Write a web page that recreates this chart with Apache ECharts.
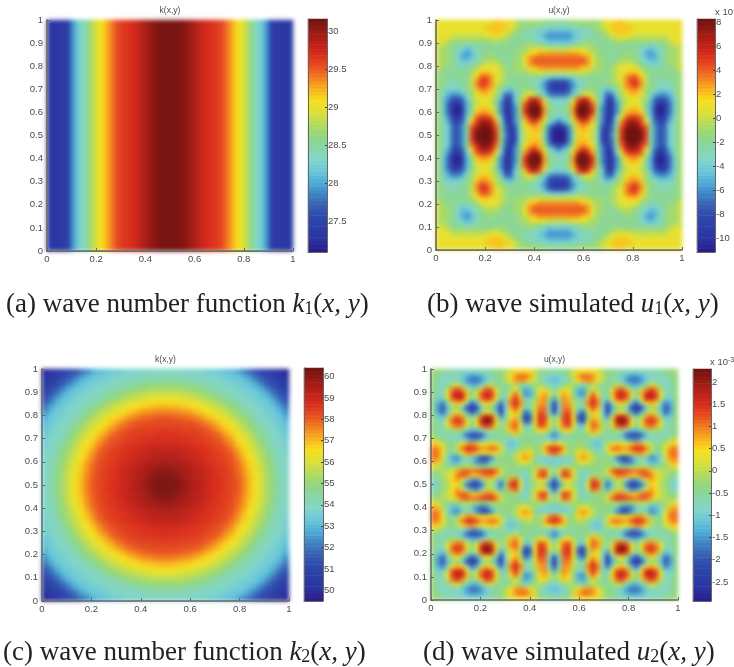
<!DOCTYPE html>
<html><head><meta charset="utf-8">
<style>html,body{margin:0;padding:0;background:#fff}#c{width:734px;height:667px}</style>
<script src="https://cdn.jsdelivr.net/npm/echarts@6/dist/echarts.min.js"></script>
</head><body><div id="c"></div>
<script>
// colour scale, equal steps from the low end to the high end of each colour bar
const colorScale = ['#2a1888','#2c32a0','#2b3da6','#2e48ac','#3860b4','#3f85c4','#50aed8','#6cc8d8','#82d6c8','#88d6a4','#90d680','#b4dc5c','#dce038','#f6e01e','#f8b01e','#f27c20','#e64c20','#d82c1c','#b82018','#961a14','#6e120e'];

const yTicks = [0,0.1,0.2,0.3,0.4,0.5,0.6,0.7,0.8,0.9,1];
const barTicksA = [27.5,28,28.5,29,29.5,30];
const barTicksB = [-10,-8,-6,-4,-2,0,2,4,6,8];
const barTicksC = [50,51,52,53,54,55,56,57,58,59,60];
const barTicksD = [-2.5,-2,-1.5,-1,-0.5,0,0.5,1,1.5,2];

// k1: value along x, from x=0 to x=0.5 in steps of 0.02 (stripes are uniform in y, mirrored about x=0.5)
const k1Profile = [27.4,27.3,27.3,27.35,27.5,27.95,28.2,28.35,28.55,28.8,29.0,29.1,29.25,29.4,29.55,29.62,29.66,29.7,29.75,29.85,29.93,30.0,30.07,30.1,30.12,30.14];

// u1 (x 1e-3): lower-left quarter, rows y=0..0.5, columns x=0..0.5, step 0.02
const u1Quarter = [
[1,1,1,1,1,1,1,1,1,1,1,1,2,2,1,1,0,-1,-1,-1,-1,-1,-1,-2,-2,-2],
[1,1,1,1,1,1,1,1,1,1,2,2,2,2,2,1,0,-1,-2,-2,-2,-3,-3,-3,-3,-3],
[1,1,1,1,1,1,1,1,1,1,1,2,2,2,1,0,-1,-2,-2,-3,-3,-4,-4,-5,-5,-5],
[1,1,1,0,0,0,0,0,0,0,1,1,1,1,0,-1,-2,-2,-3,-3,-3,-4,-5,-6,-6,-6],
[1,1,0,-1,-1,-1,-1,-1,-1,-1,-1,-1,0,-1,-1,-2,-2,-2,-2,-2,-3,-3,-4,-5,-5,-5],
[0,0,-1,-2,-2,-3,-3,-3,-2,-2,-2,-2,-2,-2,-2,-2,-2,-2,-1,-1,-1,-2,-2,-3,-3,-3],
[0,-1,-1,-2,-3,-4,-5,-4,-3,-2,-2,-2,-2,-2,-2,-2,-2,-1,-1,0,1,1,1,0,0,0],
[0,-1,-1,-2,-3,-5,-6,-5,-3,-2,-2,-1,-2,-2,-2,-2,-2,-1,0,2,2,3,3,3,3,3],
[0,-1,-1,-2,-3,-5,-5,-4,-3,-2,-1,-1,-1,-2,-2,-2,-1,-1,1,3,4,4,4,4,4,4],
[0,-1,-1,-2,-3,-4,-4,-3,-2,-1,0,0,0,-1,-2,-2,-1,-1,1,3,4,4,4,4,4,4],
[0,-1,-2,-2,-2,-3,-2,-2,-1,1,1,1,1,0,-1,-2,-1,-1,0,2,2,3,3,3,3,3],
[-1,-2,-2,-2,-2,-2,-2,-1,1,2,2,1,1,0,-1,-2,-1,-1,-1,0,0,1,0,0,0,0],
[-1,-2,-2,-2,-2,-2,-2,0,2,4,4,3,1,0,-1,-2,-2,-2,-2,-2,-2,-2,-3,-3,-4,-4],
[-1,-2,-2,-3,-3,-2,-2,0,3,5,5,3,1,0,-1,-2,-2,-2,-2,-2,-3,-3,-5,-7,-8,-8],
[-1,-2,-3,-3,-3,-2,-2,0,3,5,4,3,0,-1,-2,-3,-2,-2,-2,-2,-3,-4,-6,-8,-10,-10],
[-1,-3,-4,-4,-4,-3,-2,-1,2,3,3,2,0,-2,-4,-5,-3,-2,-1,-1,-2,-3,-5,-8,-9,-9],
[-1,-3,-5,-6,-6,-5,-3,-1,1,2,2,1,-1,-3,-7,-7,-4,-2,0,1,0,-2,-4,-6,-7,-7],
[-1,-4,-6,-8,-8,-7,-4,-1,0,1,1,0,-1,-5,-9,-8,-4,-1,2,5,6,4,0,-3,-4,-4],
[-1,-4,-7,-10,-10,-8,-5,-2,0,1,1,0,-2,-6,-10,-9,-5,-1,4,7,8,6,2,-2,-3,-3],
[-1,-4,-7,-10,-11,-9,-5,-2,1,2,2,1,-1,-6,-10,-9,-6,-1,5,8,9,8,3,-1,-2,-3],
[-1,-4,-7,-10,-11,-9,-5,-1,2,3,3,2,-1,-6,-10,-9,-6,-1,5,8,9,8,3,-2,-3,-3],
[-1,-3,-6,-9,-10,-8,-4,0,4,5,5,4,1,-4,-9,-10,-6,-2,3,6,8,6,2,-2,-3,-4],
[-1,-3,-5,-8,-9,-7,-3,2,5,7,7,6,3,-3,-8,-10,-6,-2,2,4,5,3,0,-3,-5,-7],
[-1,-3,-4,-7,-8,-6,-2,4,6,8,8,7,4,-2,-7,-10,-7,-2,1,2,3,2,-1,-6,-9,-10],
[-1,-3,-4,-7,-8,-6,-2,5,8,9,9,8,5,-1,-7,-10,-8,-3,0,2,2,2,-2,-7,-11,-11],
[-1,-3,-4,-7,-8,-6,-2,5,8,9,9,8,5,-1,-6,-10,-8,-3,0,1,2,1,-3,-7,-11,-11]
];

// k2: lower-left quarter, rows y=0..0.5, columns x=0..0.5, step 0.025
const k2Quarter = [
[49.8,50.1,50.4,50.7,51.1,51.4,51.9,52.3,52.8,53.1,53.2,53.4,53.5,53.6,53.7,53.8,53.8,53.9,53.9,53.9,53.9],
[50.1,50.4,50.7,51.2,51.5,52.0,52.6,53.0,53.3,53.4,53.5,53.7,53.8,53.9,53.9,54.0,54.1,54.1,54.2,54.2,54.2],
[50.4,50.7,51.2,51.5,52.1,52.7,53.1,53.4,53.5,53.6,53.8,53.9,54.0,54.1,54.2,54.4,54.5,54.7,54.7,54.8,54.8],
[50.7,51.2,51.5,52.2,52.8,53.2,53.4,53.5,53.7,53.9,54.0,54.1,54.3,54.6,54.8,55.0,55.1,55.2,55.3,55.3,55.3],
[51.1,51.5,52.1,52.8,53.2,53.4,53.6,53.8,53.9,54.0,54.3,54.6,54.8,55.1,55.3,55.5,55.6,55.8,55.9,55.9,55.9],
[51.4,52.0,52.7,53.2,53.4,53.6,53.8,54.0,54.1,54.4,54.8,55.1,55.3,55.6,55.8,56.0,56.2,56.3,56.4,56.5,56.5],
[51.9,52.6,53.1,53.4,53.6,53.8,54.0,54.2,54.6,54.9,55.2,55.6,55.9,56.1,56.4,56.6,56.7,56.8,56.9,57.0,57.0],
[52.3,53.0,53.4,53.5,53.8,54.0,54.2,54.6,55.0,55.4,55.7,56.0,56.3,56.6,56.8,57.0,57.3,57.4,57.5,57.6,57.6],
[52.8,53.3,53.5,53.7,53.9,54.1,54.6,55.0,55.4,55.8,56.1,56.5,56.7,57.0,57.4,57.6,57.8,57.9,58.0,58.1,58.1],
[53.1,53.4,53.6,53.9,54.0,54.4,54.9,55.4,55.8,56.1,56.6,56.9,57.3,57.6,57.9,58.1,58.2,58.2,58.3,58.3,58.3],
[53.2,53.5,53.8,54.0,54.3,54.8,55.2,55.7,56.1,56.6,56.9,57.3,57.7,58.0,58.2,58.3,58.4,58.4,58.5,58.5,58.5],
[53.4,53.7,53.9,54.1,54.6,55.1,55.6,56.0,56.5,56.9,57.3,57.8,58.1,58.2,58.4,58.5,58.5,58.6,58.6,58.7,58.7],
[53.5,53.8,54.0,54.3,54.8,55.3,55.9,56.3,56.7,57.3,57.7,58.1,58.2,58.4,58.5,58.6,58.7,58.7,58.8,58.8,58.8],
[53.6,53.9,54.1,54.6,55.1,55.6,56.1,56.6,57.0,57.6,58.0,58.2,58.4,58.5,58.7,58.7,58.8,58.9,59.0,59.0,59.0],
[53.7,53.9,54.2,54.8,55.3,55.8,56.4,56.8,57.4,57.9,58.2,58.4,58.5,58.7,58.7,58.9,59.0,59.1,59.2,59.2,59.2],
[53.8,54.0,54.4,55.0,55.5,56.0,56.6,57.0,57.6,58.1,58.3,58.5,58.6,58.7,58.9,59.0,59.1,59.2,59.3,59.4,59.4],
[53.8,54.1,54.5,55.1,55.6,56.2,56.7,57.3,57.8,58.2,58.4,58.5,58.7,58.8,59.0,59.1,59.3,59.4,59.5,59.6,59.6],
[53.9,54.1,54.7,55.2,55.8,56.3,56.8,57.4,57.9,58.2,58.4,58.6,58.7,58.9,59.1,59.2,59.4,59.6,59.7,59.8,59.9],
[53.9,54.2,54.7,55.3,55.9,56.4,56.9,57.5,58.0,58.3,58.5,58.6,58.8,59.0,59.2,59.3,59.5,59.7,59.9,60.1,60.1],
[53.9,54.2,54.8,55.3,55.9,56.5,57.0,57.6,58.1,58.3,58.5,58.7,58.8,59.0,59.2,59.4,59.6,59.8,60.1,60.2,60.2],
[53.9,54.2,54.8,55.3,55.9,56.5,57.0,57.6,58.1,58.3,58.5,58.7,58.8,59.0,59.2,59.4,59.6,59.9,60.1,60.2,60.2]
];

// u2 (x 1e-4): lower-left quarter, rows y=0..0.5, columns x=0..0.5, step 0.02
const u2Quarter = [
[-2,-3,-4,-5,-6,-7,-7,-8,-8,-8,-7,-6,-5,-4,-3,-1,2,4,5,5,4,1,-3,-4,-5,-5],
[-3,-5,-7,-8,-8,-8,-10,-13,-15,-15,-13,-10,-7,-5,-3,0,5,9,11,11,8,2,-4,-7,-9,-10],
[-3,-6,-8,-8,-7,-7,-10,-15,-18,-18,-15,-10,-7,-5,-4,-1,4,8,9,8,5,0,-5,-8,-11,-12],
[-3,-7,-8,-5,0,2,-3,-9,-13,-13,-8,-1,1,-3,-5,-4,-2,0,-3,-7,-5,-2,-1,-4,-8,-9],
[-3,-7,-7,0,10,14,9,0,-5,-2,7,13,11,2,-5,-6,-2,3,-5,-14,-12,-4,3,5,-1,-6],
[-3,-8,-7,4,14,18,16,7,-3,3,13,17,15,6,-5,-6,3,11,1,-16,-14,-4,5,8,3,-6],
[-3,-10,-10,1,12,16,15,5,-8,-1,10,15,12,3,-10,-6,8,15,7,-10,-9,-2,7,9,-2,-14],
[-4,-13,-17,-7,3,7,5,-8,-19,-13,1,6,4,-6,-18,-7,10,16,10,-3,-5,0,8,9,-7,-22],
[-4,-15,-20,-12,-2,-2,-10,-22,-26,-22,-9,-2,-3,-14,-24,-10,7,13,6,-9,-7,1,10,10,-10,-26],
[-4,-14,-19,-10,0,3,-2,-13,-21,-15,-2,4,1,-10,-23,-9,4,7,1,-18,-14,3,13,11,-7,-21],
[-3,-10,-12,-2,8,12,8,-1,-7,-1,12,19,15,1,-15,-6,3,6,-3,-24,-19,4,15,13,-2,-8],
[-3,-7,-7,3,12,15,13,3,-4,5,18,24,19,6,-7,-2,7,10,1,-21,-17,4,15,13,3,-3],
[-3,-6,-6,2,8,11,9,2,-4,2,11,15,12,2,-5,0,9,12,4,-11,-9,3,13,11,3,-4],
[-3,-6,-7,-4,-2,-1,-3,-9,-13,-13,-8,-2,-1,-3,-5,-1,6,9,3,-5,-5,-1,5,5,-2,-11],
[-3,-6,-7,-7,-7,-8,-12,-19,-23,-23,-20,-12,-7,-6,-5,-4,-2,1,-3,-5,-5,-5,-4,-6,-12,-17],
[1,-1,-4,-6,-7,-7,-8,-12,-16,-16,-13,-7,-5,-6,-6,-7,-10,-8,-5,-4,-4,-5,-6,-6,-8,-12],
[6,5,1,-3,-4,-1,4,8,9,6,3,4,6,4,-1,-7,-12,-10,-5,-3,-3,-4,-3,1,5,7],
[10,9,3,-3,-4,1,10,15,16,13,8,9,11,10,3,-6,-10,-7,-4,-1,0,-3,-2,7,14,16],
[11,10,4,-4,-6,-3,5,9,9,6,2,3,5,4,0,-5,-5,-2,3,6,5,-2,-3,3,9,12],
[10,9,2,-8,-14,-16,-10,-4,-6,-15,-22,-22,-16,-5,-4,-4,-3,0,6,9,6,-4,-9,-10,-8,-7],
[8,6,-1,-7,-12,-13,-8,-6,-11,-16,-18,-17,-11,-5,-3,-3,-3,-2,2,4,1,-4,-7,-9,-10,-10],
[3,1,-2,-3,-4,-3,-1,0,-1,-2,-4,-3,-1,-1,-2,-3,-3,-3,-3,-3,-3,-2,-1,-1,-5,-6],
[-2,-2,-1,0,2,7,11,12,10,11,13,14,15,11,3,-3,-4,-4,-6,-7,-5,2,10,12,3,-5],
[-5,-4,-1,1,5,10,12,10,6,6,8,10,10,6,-1,-3,-2,-2,-7,-9,-5,3,12,14,0,-11],
[-8,-6,-2,0,5,8,3,-7,-15,-17,-9,0,1,-5,-13,-3,9,12,1,-10,-6,0,5,5,-9,-20],
[-10,-7,-3,-1,4,4,-5,-18,-25,-26,-18,-2,-1,-10,-19,-2,14,17,4,-10,-6,-2,0,-3,-16,-24]
];

const mirror = a => a.concat(a.slice(0, -1).reverse());
const mirrorGrid = q => mirror(q.map(mirror));
const k1Row = mirror(k1Profile);
const k1Grid = yTicks.map(() => k1Row);
const u1Grid = mirrorGrid(u1Quarter);
const k2Grid = mirrorGrid(k2Quarter);
const u2Grid = mirrorGrid(u2Quarter).map(r => r.map(v => v / 10));

const panels = [
 {grid:k1Grid, title:'k(x,y)', tag:'(a)', cap:'wave number function ', sym:'k', sub:'1', min:27.1, max:30.16, ticks:barTicksA,
  plot:[47,20,246,231], bar:[308,19,19,233], capX:6, capY:304, dotted:true},
 {grid:u1Grid, title:'u(x,y)', tag:'(b)', cap:'wave simulated ', sym:'u', sub:'1', min:-11.14, max:8.28, ticks:barTicksB,
  plot:[436,20,246,230], bar:[697,19,18,233], capX:427, capY:304, dotted:true, exp:[715,13]},
 {grid:k2Grid, title:'k(x,y)', tag:'(c)', cap:'wave number function ', sym:'k', sub:'2', min:49.5, max:60.4, ticks:barTicksC,
  plot:[42,369,247,232], bar:[304,368,19,233], capX:3, capY:652, dotted:false},
 {grid:u2Grid, title:'u(x,y)', tag:'(d)', cap:'wave simulated ', sym:'u', sub:'2', min:-2.93, max:2.29, ticks:barTicksD,
  plot:[431,369,247,231], bar:[693,369,18,232], capX:423, capY:652, dotted:false, exp:[710,363]}
];

const TXT = '#4a4a4a', AX = '#666', SANS = '"Liberation Sans", Arial, sans-serif', SERIF = '"Liberation Serif", serif';
const LEVELS = 64;
const range = n => Array.from({length:n}, (_, i) => i);
const opt = {animation:false, backgroundColor:'transparent', grid:[], xAxis:[], yAxis:[], series:[], visualMap:[], title:[]};
const box = r => ({left:r[0], top:r[1], width:r[2], height:r[3], containLabel:false, show:false});

panels.forEach(p => {
  const g = opt.grid.length, rows = p.grid.length, cols = p.grid[0].length;
  opt.grid.push(box(p.plot), box(p.bar));
  const edge = {show:p.dotted, lineStyle:{color:'#999', type:'dotted', width:1}};
  const barEdge = {show:true, onZero:false, lineStyle:{color:'#666', width:1}};
  const xCat = opt.xAxis.length, yCat = opt.yAxis.length;
  opt.xAxis.push(
    {type:'category', gridIndex:g, position:'top', data:range(cols), axisLine:edge, axisTick:{show:false}, axisLabel:{show:false}, splitLine:{show:false}, zlevel:1},
    {type:'value', gridIndex:g, position:'bottom', min:0, max:1, interval:0.2, zlevel:1, splitLine:{show:false},
     axisLine:{show:true, onZero:false, lineStyle:{color:AX, width:1.5}}, axisTick:{show:true, inside:true, length:3, lineStyle:{color:AX}},
     axisLabel:{color:TXT, fontSize:9.5, fontFamily:SANS, margin:3}},
    {type:'category', gridIndex:g+1, data:[0], position:'bottom', axisLine:barEdge, axisTick:{show:false}, axisLabel:{show:false}, zlevel:1});
  opt.yAxis.push(
    {type:'category', gridIndex:g, position:'right', data:range(rows), axisLine:edge, axisTick:{show:false}, axisLabel:{show:false}, splitLine:{show:false}, zlevel:1},
    {type:'value', gridIndex:g, position:'left', min:0, max:1, interval:0.1, zlevel:1, splitLine:{show:false},
     axisLine:{show:true, onZero:false, lineStyle:{color:AX, width:1.5}}, axisTick:{show:true, inside:true, length:3, lineStyle:{color:AX}},
     axisLabel:{color:TXT, fontSize:9.5, fontFamily:SANS, margin:4}},
    {type:'category', gridIndex:g+1, data:range(LEVELS), position:'left', axisLine:barEdge, axisTick:{show:false}, axisLabel:{show:false}, zlevel:1},
    {type:'value', gridIndex:g+1, position:'right', min:p.min, max:p.max, zlevel:1, splitLine:{show:false},
     axisLine:{show:true, onZero:false, lineStyle:{color:'#666', width:1}}, axisTick:{show:true, inside:true, length:2, lineStyle:{color:'#444'}, customValues:p.ticks},
     axisLabel:{color:TXT, fontSize:9.5, fontFamily:SANS, margin:1, customValues:p.ticks}});
  const cells = [];
  p.grid.forEach((row, j) => row.forEach((v, i) => cells.push([i, j, v])));
  const s = opt.series.length;
  opt.series.push(
    {type:'heatmap', xAxisIndex:xCat, yAxisIndex:yCat, data:cells, progressive:0, zlevel:0, silent:true},
    {type:'heatmap', xAxisIndex:xCat+2, yAxisIndex:yCat+2, progressive:0, zlevel:1, z:0, silent:true,
     data:range(LEVELS).map(i => [0, i, p.min + (i + 0.5) / LEVELS * (p.max - p.min)])});
  opt.visualMap.push({show:false, seriesIndex:[s, s+1], dimension:2, min:p.min, max:p.max, inRange:{color:colorScale}});
  opt.title.push({text:p.title, left:p.plot[0] + p.plot[2] / 2, top:p.plot[1] - 14, textAlign:'center', zlevel:1, padding:0,
    textStyle:{color:TXT, fontSize:8.5, fontWeight:'normal', fontFamily:SANS}});
  const base = {fontFamily:SERIF, fontSize:27, color:'#222'};
  opt.title.push({left:p.capX, top:p.capY - 13, zlevel:1, padding:0,
    text:`{r|${p.tag} ${p.cap}}{i|${p.sym}}{s|${p.sub}}{r|(}{i|x, y}{r|)}`,
    textStyle:{fontWeight:'normal', fontFamily:SERIF, fontSize:27, color:'#222', rich:{
      r:{...base}, i:{...base, fontStyle:'italic'}, s:{...base, fontSize:18, verticalAlign:'bottom'}}}});
  if (p.exp) opt.title.push({left:p.exp[0], top:p.exp[1] - 6, zlevel:1, padding:0,
    text:'{a|x 10}{b|-3}', textStyle:{fontWeight:'normal', rich:{
      a:{color:TXT, fontSize:9.5, fontFamily:SANS}, b:{color:TXT, fontSize:7, fontFamily:SANS, verticalAlign:'top'}}}});
});

const chart = echarts.init(document.getElementById('c'), null, {renderer:'canvas'});
chart.setOption(opt);
// soft look of the source image: only the main heatmap layer (zlevel 0) is softened
const layer = document.querySelector('#c canvas');
if (layer) layer.style.filter = 'blur(2px)';
</script></body></html>
